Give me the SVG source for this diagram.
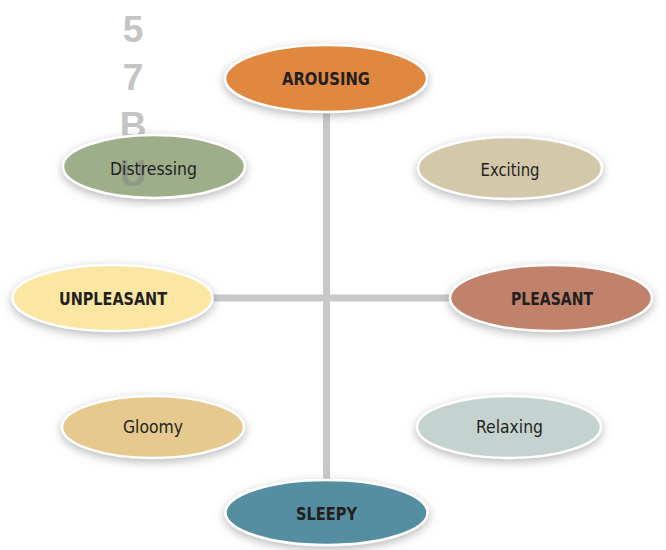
<svg xmlns="http://www.w3.org/2000/svg" width="666" height="550" viewBox="0 0 666 550">
  <defs>
    <filter id="glow" x="-20%" y="-40%" width="140%" height="190%">
      <feDropShadow dx="0" dy="3" stdDeviation="5" flood-color="#808080" flood-opacity="0.55"/>
    </filter>
    <style>
      .node { stroke: #ffffff; stroke-width: 2.5; filter: url(#glow); }
      .lbl { font-family: "Liberation Sans Narrow", "DejaVu Sans Condensed", "Liberation Sans", sans-serif; font-weight: bold; font-size: 18px; fill: #231f20; text-anchor: middle; }
      .sub { font-weight: normal; }
      .axis { stroke: #c8c8c8; stroke-width: 7; fill: none; }
      .mark { font-family: "Liberation Sans", Arial, sans-serif; font-weight: bold; font-size: 37px; fill: #c4c4c4; text-anchor: middle; }
    </style>
  </defs>
  <rect width="666" height="550" fill="#ffffff"/>

  <!-- axes -->
  <g id="connectors">
    <line class="axis" x1="326.5" y1="110" x2="326.5" y2="482"/>
    <line class="axis" x1="210" y1="298" x2="452" y2="298"/>
  </g>

  <!-- side marks -->
  <g id="marks">
    <text class="mark" x="133" y="42">5</text>
    <text class="mark" x="133" y="90">7</text>
    <text class="mark" x="133" y="138">B</text>
  </g>

  <g id="arousing">
    <ellipse class="node" cx="326" cy="78.5" rx="101" ry="33.5" fill="#e0873f"/>
    <text class="lbl" x="326" y="85" textLength="88" lengthAdjust="spacingAndGlyphs">AROUSING</text>
  </g>

  <g id="distressing">
    <ellipse class="node" cx="154" cy="166.5" rx="91" ry="31.5" fill="#9fae8a"/>
    <text class="mark" x="133" y="186" fill-opacity="0.5" style="fill:#808080">U</text>
    <text class="lbl sub" x="153.5" y="175" textLength="87" lengthAdjust="spacingAndGlyphs">Distressing</text>
  </g>

  <g id="exciting">
    <ellipse class="node" cx="510" cy="168" rx="92" ry="31" fill="#d3c8aa"/>
    <text class="lbl sub" x="510" y="176" textLength="59" lengthAdjust="spacingAndGlyphs">Exciting</text>
  </g>

  <g id="unpleasant">
    <ellipse class="node" cx="112.5" cy="298" rx="100" ry="33" fill="#fbe6a2"/>
    <text class="lbl" x="113" y="305" textLength="108" lengthAdjust="spacingAndGlyphs">UNPLEASANT</text>
  </g>

  <g id="pleasant">
    <ellipse class="node" cx="551" cy="298" rx="101" ry="33" fill="#c0826a"/>
    <text class="lbl" x="552" y="305" textLength="82" lengthAdjust="spacingAndGlyphs">PLEASANT</text>
  </g>

  <g id="gloomy">
    <ellipse class="node" cx="153" cy="427" rx="91" ry="31" fill="#e5c98e"/>
    <text class="lbl sub" x="153" y="433" textLength="60" lengthAdjust="spacingAndGlyphs">Gloomy</text>
  </g>

  <g id="relaxing">
    <ellipse class="node" cx="509" cy="427" rx="92" ry="31" fill="#c5d3d0"/>
    <text class="lbl sub" x="509.5" y="433" textLength="67" lengthAdjust="spacingAndGlyphs">Relaxing</text>
  </g>

  <g id="sleepy">
    <ellipse class="node" cx="326.5" cy="512.5" rx="101" ry="32.5" fill="#558ea0"/>
    <text class="lbl" x="326.5" y="520" textLength="61" lengthAdjust="spacingAndGlyphs">SLEEPY</text>
  </g>
</svg>
